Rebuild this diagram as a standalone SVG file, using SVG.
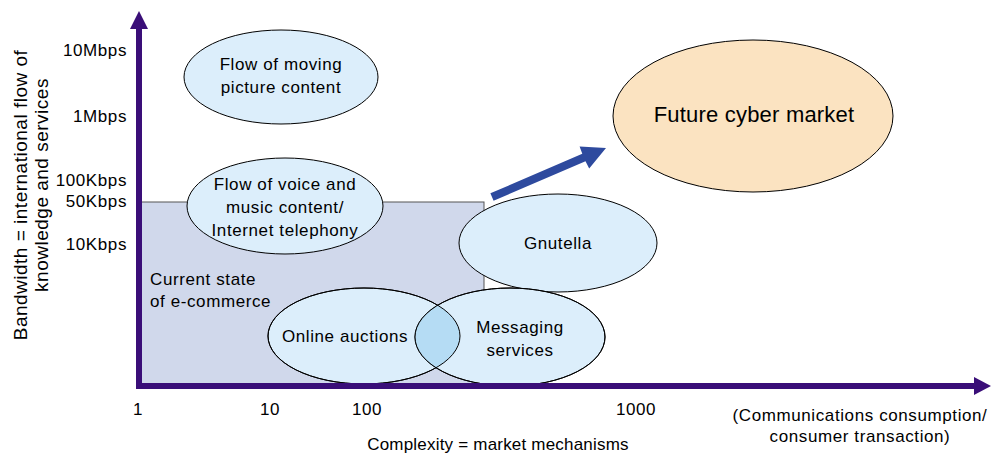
<svg xmlns="http://www.w3.org/2000/svg" width="991" height="454" viewBox="0 0 991 454">
  <style>
    text { font-family: "Liberation Sans", Arial, sans-serif; font-size: 17px; letter-spacing: 0.6px; fill: #000; }
    .mid { text-anchor: middle; }
    .end { text-anchor: end; }
    .bubble { fill: #DCEEFB; stroke: #000; stroke-width: 1; }
    .outline { fill: none; stroke: #000; stroke-width: 1; }
    .axis { stroke: #3A0E78; stroke-width: 6; fill: none; }
    .axishead { fill: #3A0E78; }
    .vlabel { font-size: 19px; letter-spacing: 0.5px; }
  </style>
  <defs>
    <clipPath id="clip-auctions">
      <ellipse cx="364" cy="336" rx="96" ry="48"/>
    </clipPath>
  </defs>

  <!-- current state region -->
  <g id="current-state">
    <rect x="139" y="202" width="345" height="184" fill="#D0D8EB" stroke="#555" stroke-width="1"/>
    <text x="150" y="285">Current state</text>
    <text x="150" y="307">of e-commerce</text>
  </g>

  <g id="moving-picture">
    <ellipse class="bubble" cx="281" cy="77" rx="97" ry="47"/>
    <text class="mid" x="281" y="70">Flow of moving</text>
    <text class="mid" x="281" y="93">picture content</text>
  </g>

  <g id="voice-music">
    <ellipse class="bubble" cx="285" cy="206" rx="98" ry="48"/>
    <text class="mid" x="285" y="190">Flow of voice and</text>
    <text class="mid" x="285" y="213">music content/</text>
    <text class="mid" x="285" y="236">Internet telephony</text>
  </g>

  <g id="gnutella">
    <ellipse class="bubble" cx="558" cy="243" rx="99" ry="49"/>
    <text class="mid" x="558" y="249">Gnutella</text>
  </g>

  <g id="auctions-messaging">
    <ellipse class="bubble" cx="364" cy="336" rx="96" ry="48"/>
    <ellipse class="bubble" cx="510" cy="337" rx="95" ry="49"/>
    <ellipse cx="510" cy="337" rx="95" ry="49" fill="#B5DCF4" clip-path="url(#clip-auctions)"/>
    <ellipse class="outline" cx="364" cy="336" rx="96" ry="48"/>
    <ellipse class="outline" cx="510" cy="337" rx="95" ry="49"/>
    <text class="mid" x="345" y="342">Online auctions</text>
    <text class="mid" x="520" y="333">Messaging</text>
    <text class="mid" x="520" y="356">services</text>
  </g>

  <g id="future-market">
    <ellipse cx="753" cy="116" rx="140" ry="76" fill="#FBE3C1" stroke="#000" stroke-width="1"/>
    <text class="mid" x="754" y="122" style="font-size:22px;letter-spacing:0.2px">Future cyber market</text>
  </g>

  <!-- connectors: axes and growth arrow -->
  <g id="connectors">
    <line class="axis" x1="139" y1="389" x2="139" y2="26"/>
    <polygon class="axishead" points="139,11 148,29 130,29"/>
    <line class="axis" x1="136" y1="386" x2="976" y2="386"/>
    <polygon class="axishead" points="991,386 974,377 974,395"/>
    <polygon fill="#2E4A9E" points="493.6,200.7 490.4,193.3 582.3,153.8 579.6,146.4 606,148 589.2,168.6 585.5,161.2"/>
  </g>

  <g id="y-scale">
    <text class="end" x="127" y="56">10Mbps</text>
    <text class="end" x="127" y="122">1Mbps</text>
    <text class="end" x="127" y="186">100Kbps</text>
    <text class="end" x="127" y="207">50Kbps</text>
    <text class="end" x="127" y="250">10Kbps</text>
    <text class="mid vlabel" transform="translate(27,195) rotate(-90)">Bandwidth = international flow of</text>
    <text class="mid vlabel" transform="translate(48,185) rotate(-90)">knowledge and services</text>
  </g>

  <g id="x-scale">
    <text class="mid" x="138" y="415">1</text>
    <text class="mid" x="270" y="415">10</text>
    <text class="mid" x="367" y="415">100</text>
    <text class="mid" x="636" y="415">1000</text>
    <text class="mid" x="498" y="450" style="letter-spacing:0.2px">Complexity = market mechanisms</text>
    <text class="mid" x="860" y="421">(Communications consumption/</text>
    <text class="mid" x="860" y="442">consumer transaction)</text>
  </g>
</svg>
